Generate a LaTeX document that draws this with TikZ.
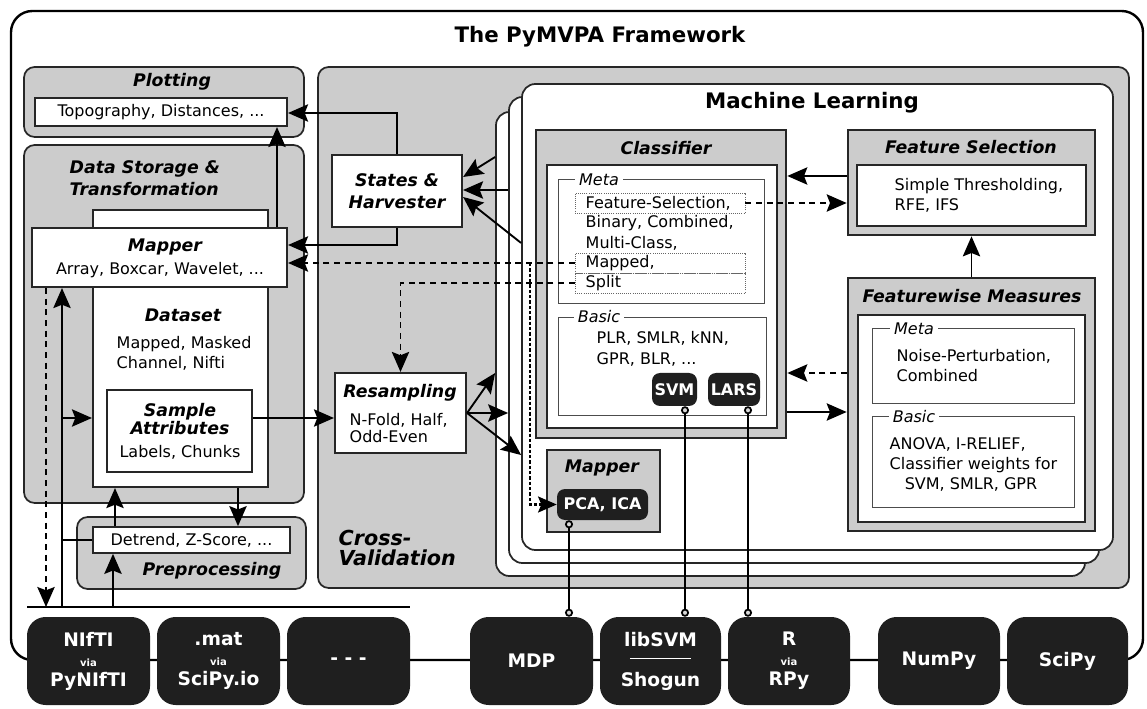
\documentclass[tikz,border=0pt]{standalone}
\usepackage{fontspec}
\setmainfont{DejaVu Sans}
\usetikzlibrary{arrows.meta,fit,calc}

\tikzset{
  panel/.style={draw=black!85, line width=1.3pt, fill=gray!40, rounded corners=8pt, inner sep=0pt},
  block/.style={draw=black!85, line width=2pt, fill=gray!40, inner sep=0pt},
  wbox/.style={draw=black!85, line width=1.6pt, fill=white, inner sep=0pt},
  card/.style={draw=black!85, line width=1.3pt, fill=white, rounded corners=10pt, inner sep=0pt},
  kind/.style={draw=black!70, line width=0.6pt, inner sep=0pt},
  tag/.style={fill=white, inner xsep=3pt, inner ysep=1pt, font=\itshape\fontsize{12}{14}\selectfont},
  sel/.style={draw=black!60, line width=0.6pt, densely dotted, inner sep=0pt},
  lib/.style={fill=black!88, rounded corners=14pt, inner sep=0pt},
  libtxt/.style={text=white, align=center, font=\bfseries\fontsize{14}{15}\selectfont},
  chip/.style={fill=black!88, rounded corners=6pt, inner sep=0pt},
  chiptxt/.style={text=white, font=\bfseries\fontsize{12}{14}\selectfont},
  ttl/.style={font=\bfseries\itshape\fontsize{13}{16.5}\selectfont},
  txt/.style={font=\fontsize{12}{15}\selectfont},
  flow/.style={line width=1.4pt, -{Stealth[length=15pt,width=13pt,inset=2.5pt]}},
  hint/.style={flow, dash pattern=on 4.5pt off 3.5pt},
  tap/.style={line width=1.6pt, dash pattern=on 2.5pt off 1.5pt, -{Stealth[length=14pt,width=12pt,inset=2.5pt]}},
  plug/.style={line width=1.3pt, {Circle[length=6pt,fill=gray!30]}-{Circle[length=6pt,fill=gray!30]}},
}

\begin{document}
\begin{tikzpicture}[x=0.75pt, y=-0.75pt, txt]
    \useasboundingbox (0,0) rectangle (1147,709);
    \draw[line width=1.8pt, rounded corners=16pt] (11,11) rectangle (1143,660);
    \node[font=\bfseries\fontsize{16}{18}\selectfont] (framework) at (600,37) {The PyMVPA Framework};

    % data side
    \node[panel, fit={(24,67) (304,137)}] (plotting) {};
    \node[ttl] (plottingttl) at (172,82) {Plotting};
    \node[wbox, fit={(35,98) (287,126)}] (topo) {};
    \node (topotxt) at (topo) {Topography, Distances, ...};

    \node[panel, fit={(24,145) (304,503)}] (storage) {};
    \node[ttl, align=left, anchor=west] (storagettl) at (65,178) {Data Storage \&\\Transformation};
    \node[wbox, fit={(93,210) (268,487)}] (dataset) {};
    \node[wbox, fit={(32,228) (287,287)}] (mapper) {};
    \node[ttl] (mapperttl) at (165,247) {Mapper};
    \node (mappertxt) at (160,270) {Array, Boxcar, Wavelet, ...};
    \node[ttl] (datasetttl) at (183,315) {Dataset};
    \node[align=left, anchor=west] (datasettxt) at (112,353) {Mapped, Masked\\Channel, Nifti};
    \node[wbox, line width=1pt, fit={(107,390) (252,472)}] (attrs) {};
    \node[ttl, align=center, font=\bfseries\itshape\fontsize{13}{14}\selectfont] (attrsttl) at (180,419) {Sample\\Attributes};
    \node (attrstxt) at (180,452) {Labels, Chunks};

    \node[panel, fit={(77,517) (306,589)}] (prep) {};
    \node[wbox, line width=1.3pt, fit={(93,527) (290,553)}] (detrend) {};
    \node (detrendtxt) at (detrend) {Detrend, Z-Score, ...};
    \node[ttl] (prepttl) at (212,571) {Preprocessing};

    \coordinate (busL) at (27,607);
    \coordinate (busR) at (410,607);
    \coordinate (busout) at (46,607);
    \coordinate (busin) at (62,607);
    \coordinate (busprep) at (113,607);
    \draw[line width=2.2pt] (busL) -- (busR);

    % cross-validation
    \node[panel, fit={(318,67) (1129,588)}] (crossval) {};
    \node[ttl, align=left, anchor=west, font=\bfseries\itshape\fontsize{15.5}{15}\selectfont] (crossvalttl) at (334,548) {Cross-\\Validation};
    \node[wbox, fit={(332,155) (462,227)}] (states) {};
    \node[ttl, align=center] (statesttl) at (states) {States \&\\Harvester};
    \node[wbox, fit={(335,373) (466,453)}] (resampling) {};
    \node[ttl] (resamplingttl) at (400,393) {Resampling};
    \node[align=left, anchor=west, font=\fontsize{12}{13}\selectfont] (resamplingtxt) at (345,428) {N-Fold, Half,\\Odd-Even};

    % machine learning
    \node[card, fit={(496,112) (1085,576)}] (card3) {};
    \node[card, fit={(509,97) (1099,563)}] (card2) {};
    \node[card, fit={(522,84) (1113,550)}] (card1) {};
    \node[font=\bfseries\fontsize{16}{18}\selectfont] (mlttl) at (812,103) {Machine Learning};

    \node[block, fit={(536,130) (786,438)}] (classifier) {};
    \node[ttl] (classifierttl) at (666,148) {Classifier};
    \node[wbox, line width=2pt, fit={(547,165) (777,428)}] (clsinner) {};
    \node[kind, fit={(558,179) (764,303)}] (clsmeta) {};
    \node[tag] (clsmetatag) at (599,180) {Meta};
    \node[sel, fit={(575,193) (745,213)}] (fsel) {};
    \node[sel, fit={(575,253) (745,273)}] (mappedsel) {};
    \node[sel, fit={(575,273) (745,293)}] (splitsel) {};
    \node[anchor=west] (fseltxt) at (581,203) {Feature-Selection,};
    \node[anchor=west] (binarytxt) at (581,223) {Binary, Combined,};
    \node[anchor=west] (multitxt) at (581,243) {Multi-Class,};
    \node[anchor=west] (mappedtxt) at (581,263) {Mapped,};
    \node[anchor=west] (splittxt) at (581,283) {Split};
    \node[kind, fit={(558,317) (766,415)}] (clsbasic) {};
    \node[tag] (clsbasictag) at (599,317) {Basic};
    \node[align=left, anchor=west, font=\fontsize{12}{16}\selectfont] (clsbasictxt) at (592,349) {PLR, SMLR, kNN,\\GPR, BLR, ...};
    \node[chip, fit={(652,373) (697,406)}] (svm) {};
    \node[chiptxt] (svmtxt) at (svm) {SVM};
    \node[chip, fit={(708,373) (760,406)}] (lars) {};
    \node[chiptxt] (larstxt) at (lars) {LARS};

    \node[block, fit={(848,130) (1095,235)}] (fselect) {};
    \node[ttl] (fselectttl) at (971,147) {Feature Selection};
    \node[wbox, line width=2pt, fit={(857,165) (1086,226)}] (fselectin) {};
    \node[align=left, anchor=west] (fselecttxt) at (890,195) {Simple Thresholding,\\RFE, IFS};

    \node[block, fit={(848,278) (1095,531)}] (fmeasure) {};
    \node[ttl] (fmeasurettl) at (972,296) {Featurewise Measures};
    \node[wbox, line width=2pt, fit={(858,315) (1085,522)}] (fmeasurein) {};
    \node[kind, fit={(872,328) (1074,403)}] (fmmeta) {};
    \node[tag] (fmmetatag) at (914,329) {Meta};
    \node[align=left, anchor=west] (fmmetatxt) at (892,366) {Noise-Perturbation,\\Combined};
    \node[kind, fit={(872,416) (1074,507)}] (fmbasic) {};
    \node[tag] (fmbasictag) at (914,417) {Basic};
    \node[anchor=west] (anovatxt) at (885,444) {ANOVA, I-RELIEF,};
    \node[anchor=west] (weightstxt) at (885,465) {Classifier weights for};
    \node (weightsfor) at (971,484) {SVM, SMLR, GPR};

    \node[block, fit={(547,450) (660,532)}] (mlmapper) {};
    \node[ttl] (mlmapperttl) at (602,468) {Mapper};
    \node[chip, fit={(557,489) (648,520)}] (pca) {};
    \node[chiptxt] (pcatxt) at (pca) {PCA, ICA};

    % external libraries
    \node[lib, fit={(27,617) (150,705)}] (nifti) {};
    \node[libtxt] (niftitxt) at (nifti) {NIfTI\\{\fontsize{7.5}{7.5}\selectfont via}\\PyNIfTI};
    \node[lib, fit={(157,617) (280,705)}] (matfile) {};
    \node[libtxt] (matfiletxt) at (matfile) {.mat\\{\fontsize{7.5}{7.5}\selectfont via}\\SciPy.io};
    \node[lib, fit={(287,617) (410,705)}] (misc) {};
    \node[libtxt] (misctxt) at (misc) {- - -};
    \node[lib, fit={(470,617) (593,705)}] (mdp) {};
    \node[libtxt] (mdptxt) at (mdp) {MDP};
    \node[lib, fit={(600,617) (721,705)}] (libsvm) {};
    \node[libtxt] (libsvmtxt) at (libsvm) {libSVM\\{\rule[5pt]{46pt}{1.2pt}}\\Shogun};
    \node[lib, fit={(728,617) (850,705)}] (rpy) {};
    \node[libtxt] (rpytxt) at (rpy) {R\\{\fontsize{7.5}{7.5}\selectfont via}\\RPy};
    \node[lib, fit={(878,617) (1000,705)}] (numpy) {};
    \node[libtxt] (numpytxt) at (numpy) {NumPy};
    \node[lib, fit={(1007,617) (1128,705)}] (scipy) {};
    \node[libtxt] (scipytxt) at (scipy) {SciPy};

    % connectors
    \draw[flow] (busin) -- (busin |- mapper.south);
    \draw[flow] (busin |- 0,418) -- (dataset.west |- 0,418);
    \draw[line width=1.4pt] (busin |- detrend.west) -- (detrend.west);
    \draw[hint] (busout |- mapper.south) -- (busout);
    \draw[flow] (busprep) -- (busprep |- detrend.south);
    \draw[flow] (detrend.north -| 115,0) -- (dataset.south -| 115,0);
    \draw[flow] (dataset.south -| 238,0) -- (detrend.north -| 238,0);
    \draw[flow] (mapper.north -| 277,0) -- (topo.south -| 277,0);
    \draw[flow] (attrs.east |- 0,418) -- (resampling.west |- 0,418);

    \draw[flow] (states.north) |- (topo.east |- 0,113);
    \draw[flow] (states.south) |- (mapper.east |- 0,245);
    \draw[hint] (mappedsel.west) -- (mappedsel.west -| mapper.east);
    \draw[hint] (splitsel.west) -| (resampling.north);
    \coordinate (maptap) at (530,263);
    \draw[tap] (maptap) |- (pca.west);

    \draw[flow] (card3.west |- 0,157) -- ($(states.east)+(0,-14)$);
    \draw[flow] (card2.west |- 0,190) -- (states.east |- 0,190);
    \draw[flow] (card1.west |- 0,243) -- ($(states.east)+(0,6)$);
    \draw[flow] (resampling.east) -- (card3.west |- 0,373);
    \draw[flow] (resampling.east) -- (card2.west |- resampling.east);
    \draw[flow] (resampling.east) -- (card1.west |- 0,455);

    \draw[flow] (fselect.west |- 0,176) -- (classifier.east |- 0,176);
    \draw[hint] (fsel.east) -- (fsel.east -| fselect.west);
    \draw[hint] (fmeasure.west |- 0,373) -- (classifier.east |- 0,373);
    \draw[flow] (classifier.east |- 0,412) -- (fmeasure.west |- 0,412);
    \draw[flow] (fmeasure.north) -- (fselect.south);

    \draw[plug] (pca.south -| 569,0) -- (mdp.north -| 569,0);
    \draw[plug] (svm.south -| 685,0) -- (libsvm.north -| 685,0);
    \draw[plug] (lars.south -| 748,0) -- (rpy.north -| 748,0);
\end{tikzpicture}
\end{document}
